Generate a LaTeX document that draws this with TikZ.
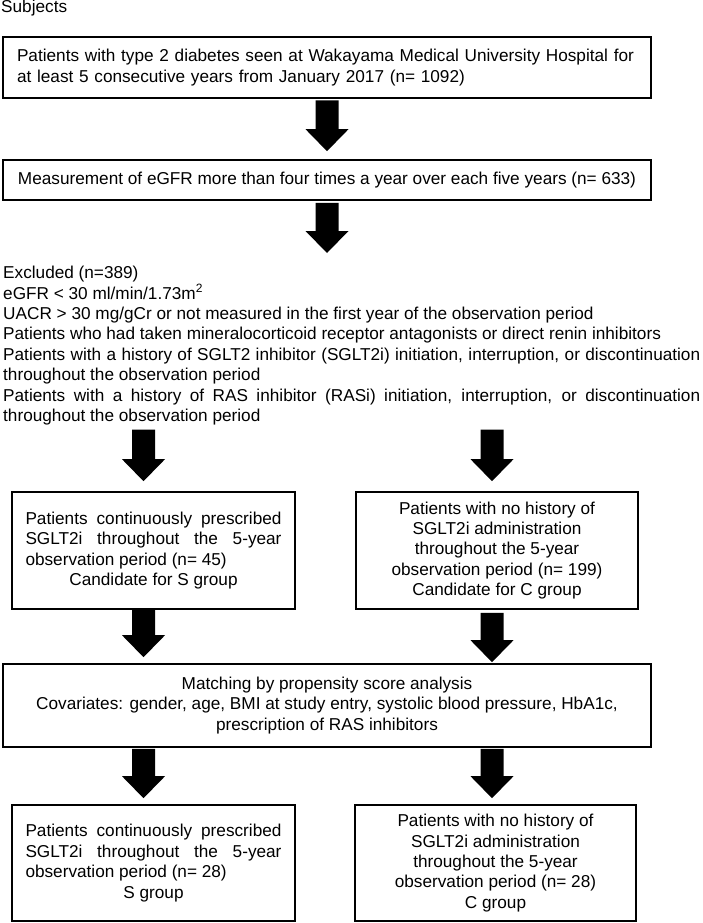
\documentclass[tikz,border=0pt]{standalone}
\usepackage{fontspec}
\setmainfont{Liberation Sans}
\usepackage{tikz}
\usepackage{tkz-euclide}
\usetikzlibrary{calc}

\tikzset{
  flowbox/.style={draw, line width=1.6pt, inner sep=0pt,
    font=\fontsize{17.2}{20.4}\selectfont},
  plain/.style={inner sep=0pt, font=\fontsize{17.2}{20.4}\selectfont},
}

\begin{document}
\begin{tikzpicture}[x=1pt,y=1pt]
                \useasboundingbox (0,0) rectangle (702,-923);
                \tkzDefPoint(327,-67.5){P1}
                \tkzDefPoint(327,-180){P2}
                \tkzDefPoint(3,-266){E}
                \tkzDefPoint(153.5,-550.5){S}
                \tkzDefPoint(497,-550.5){C}
                \tkzDefPoint(327,-705.5){M}
                \tkzDefPoint(153.5,-863){Sg}
                \tkzDefPoint(495.5,-863){Cg}
                \tkzDefPoint(143.5,0){colS}
                \tkzDefPoint(492,0){colC}
                \node[plain, anchor=base west] (subj) at (1,-12.5) {Subjects};
                \node[flowbox, minimum width=648, minimum height=61, inner xsep=14,
                      text width=620, align=left] (box1) at (P1)
                  {Patients with type 2 diabetes seen at Wakayama Medical University Hospital for\\
                   at least 5 consecutive years from January 2017 (n= 1092)};
                \node[flowbox, minimum width=648, minimum height=40] (box2) at (P2)
                  {Measurement of eGFR more than four times a year over each five years (n= 633)};
                \node[plain, anchor=north west, text width=697, align=justify] (excl) at (E)
                  {Excluded (n=389)\par
                   eGFR < 30 ml/min/1.73m\textsuperscript{2}\par
                   UACR > 30 mg/gCr or not measured in the first year of the observation period\par
                   Patients who had taken mineralocorticoid receptor antagonists or direct renin inhibitors\par
                   Patients with a history of SGLT2 inhibitor (SGLT2i) initiation, interruption, or discontinuation\linebreak
                   throughout the observation period\par
                   Patients with a history of RAS inhibitor (RASi) initiation, interruption, or discontinuation\linebreak
                   throughout the observation period};
                \node[flowbox, minimum width=283, minimum height=117] (S1) at (S)
                  {\parbox{256pt}{Patients continuously prescribed\linebreak
                    SGLT2i throughout the 5-year\linebreak
                    observation period (n= 45)\par
                    \centering Candidate for S group}};
                \node[flowbox, minimum width=282, minimum height=117, align=center] (C1) at (C)
                  {Patients with no history of\\ SGLT2i administration\\ throughout the 5-year\\
                   observation period (n= 199)\\ Candidate for C group};
                \node[flowbox, minimum width=648, minimum height=83, align=center] (match) at (M)
                  {Matching by propensity score analysis\\
                   Covariates: gender, age, BMI at study entry, systolic blood pressure, HbA1c,\\
                   prescription of RAS inhibitors};
                \node[flowbox, minimum width=283, minimum height=116] (S2) at (Sg)
                  {\parbox{256pt}{Patients continuously prescribed\linebreak
                    SGLT2i throughout the 5-year\linebreak
                    observation period (n= 28)\par
                    \centering S group}};
                \node[flowbox, minimum width=281, minimum height=116, align=center] (C2) at (Cg)
                  {Patients with no history of\\ SGLT2i administration\\ throughout the 5-year\\
                   observation period (n= 28)\\ C group};
                \coordinate (a1) at ($(box1.south)+(0,-1.5)$);
                \coordinate (b1) at ($(box2.north)+(0,8)$);
                \coordinate (a2) at ($(box2.south)+(0,-2)$);
                \coordinate (b2) at ($(box2.south |- excl.north)+(0,13)$);
                \coordinate (a3) at ($(colS |- excl.south)+(0,-4.5)$);
                \coordinate (b3) at ($(colS |- S1.north)+(0,10)$);
                \coordinate (a4) at ($(colC |- excl.south)+(0,-4.5)$);
                \coordinate (b4) at ($(colC |- C1.north)+(0,10)$);
                \coordinate (a5) at (colS |- S1.south);
                \coordinate (b5) at ($(colS |- match.north)+(0,6)$);
                \coordinate (a6) at ($(colC |- C1.south)+(0,-3)$);
                \coordinate (b6) at ($(colC |- match.north)+(0,1)$);
                \coordinate (a7) at ($(colS |- match.south)+(0,-1)$);
                \coordinate (b7) at ($(colS |- S2.north)+(0,6)$);
                \coordinate (a8) at ($(colC |- match.south)+(0,-1)$);
                \coordinate (b8) at ($(colC |- C2.north)+(0,6)$);
                \foreach \a/\b in {a1/b1,a2/b2,a3/b3,a4/b4,a5/b5,a6/b6,a7/b7,a8/b8}
                  \fill let \p1=(\a), \p2=(\b) in
                    (\x1-11.5pt,\y1) -- (\x1+11.5pt,\y1) -- (\x1+11.5pt,\y2+22pt)
                    -- (\x1+21.5pt,\y2+22pt) -- (\x1,\y2) -- (\x1-21.5pt,\y2+22pt)
                    -- (\x1-11.5pt,\y2+22pt) -- cycle;
            \end{tikzpicture}
\end{document}
